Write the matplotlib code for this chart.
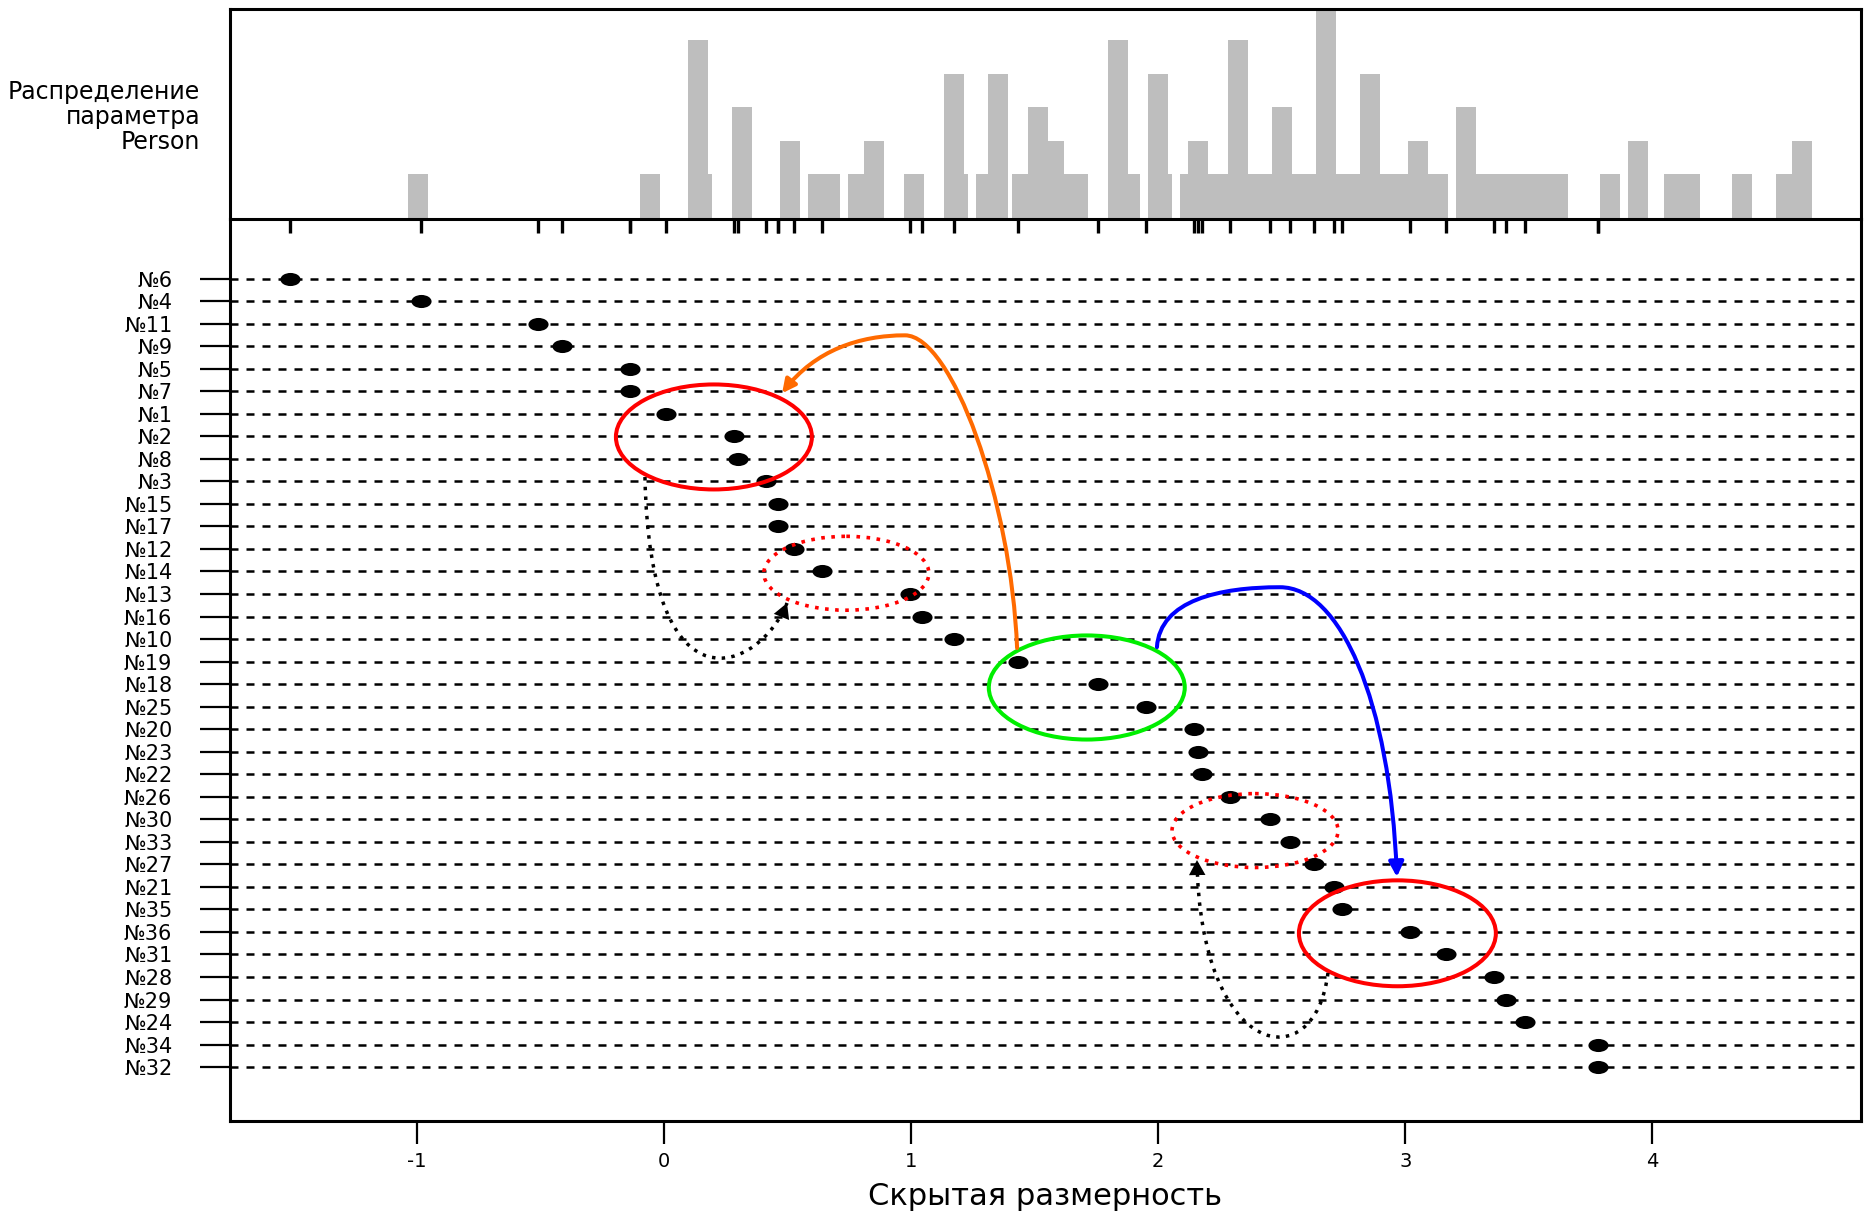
import matplotlib
matplotlib.use("Agg")
import matplotlib.pyplot as plt
from matplotlib.path import Path
from matplotlib.patches import Ellipse, PathPatch, FancyArrowPatch
from matplotlib.transforms import Affine2D, blended_transform_factory

plt.rcParams['font.family'] = ['DejaVu Sans']

# =====================================================
# Data
# =====================================================
item_labels = ["№6", "№4", "№11", "№9", "№5", "№7", "№1", "№2", "№8", "№3",
               "№15", "№17", "№12", "№14", "№13", "№16", "№10", "№19", "№18",
               "№25", "№20", "№23", "№22", "№26", "№30", "№33", "№27", "№21",
               "№35", "№36", "№31", "№28", "№29", "№24", "№34", "№32"]
item_values = [-1.515, -0.983, -0.510, -0.413, -0.138, -0.138, 0.008, 0.283,
               0.299, 0.413, 0.461, 0.461, 0.526, 0.639, 0.996, 1.044, 1.174,
               1.433, 1.756, 1.951, 2.145, 2.161, 2.177, 2.291, 2.452, 2.533,
               2.631, 2.711, 2.744, 3.019, 3.165, 3.359, 3.408, 3.484, 3.780,
               3.780]

# person parameter distribution (bar edges and counts)
hist_left = [-1.036, -0.097, 0.097, 0.178, 0.275, 0.469, 0.583, 0.745, 0.809,
             0.971, 1.133, 1.214, 1.263, 1.311, 1.408, 1.473, 1.554, 1.619,
             1.797, 1.878, 1.959, 2.040, 2.088, 2.121, 2.202, 2.282, 2.363,
             2.460, 2.541, 2.639, 2.720, 2.817, 2.898, 3.011, 3.092, 3.205,
             3.286, 3.788, 3.901, 4.047, 4.322, 4.500, 4.565]
hist_right = [-0.955, -0.016, 0.178, 0.194, 0.356, 0.550, 0.712, 0.809, 0.890,
              1.052, 1.214, 1.230, 1.311, 1.392, 1.473, 1.554, 1.619, 1.716,
              1.878, 1.926, 2.040, 2.056, 2.121, 2.202, 2.282, 2.363, 2.460,
              2.541, 2.639, 2.720, 2.817, 2.898, 3.011, 3.092, 3.173, 3.286,
              3.658, 3.869, 3.982, 4.193, 4.403, 4.565, 4.646]
hist_count = [1, 1, 5, 1, 3, 2, 1, 1, 2,
              1, 4, 1, 1, 4, 1, 3, 2, 1,
              5, 1, 4, 1, 1, 2, 1, 5, 1,
              3, 1, 6, 1, 4, 1, 2, 1, 3,
              1, 1, 2, 1, 1, 1, 2]

x_ticks = [-1, 0, 1, 2, 3, 4]

# =====================================================
# Hand-drawn annotations (x in scale units, y in rows)
# =====================================================
# (center x, center row, width, height)
solid_ellipses = [(0.202, 7.03, 0.793, 4.66, "#ff0000"),
                  (1.711, 18.15, 0.793, 4.62, "#00ee00"),
                  (2.968, 29.06, 0.797, 4.70, "#ff0000")]
dotted_ellipses = [(0.738, 13.08, 0.668, 3.28),
                   (2.392, 24.50, 0.672, 3.28)]

orange_curve = [(1.429, 16.40), (1.405, 9.84), (1.165, 2.52), (0.975, 2.52),
                (0.793, 2.52), (0.611, 3.18), (0.478, 5.09)]
blue_curve = [(1.995, 16.36), (2.007, 14.27), (2.250, 13.70), (2.493, 13.70),
              (2.736, 13.70), (2.938, 18.71), (2.966, 26.56)]
dotted_curves = [[(-0.077, 8.81), (-0.057, 19.60), (0.389, 17.38), (0.498, 14.40)],
                 [(2.687, 30.82), (2.635, 35.57), (2.169, 34.68), (2.157, 25.81)]]

XLIM = (-1.756, 4.844)
HIST_BASE = -0.35


def bezier(points):
    codes = [Path.MOVETO] + [Path.CURVE4] * (len(points) - 1)
    return Path(points, codes)


fig = plt.figure(figsize=(18.72, 12.17), dpi=100)
ax_h = fig.add_axes([0.1229, 0.8198, 0.8712, 0.1732])
ax = fig.add_axes([0.1229, 0.0789, 0.8712, 0.7409])

# =====================================================
# Top panel: histogram
# =====================================================
widths = [r - l for l, r in zip(hist_left, hist_right)]
heights = [c - HIST_BASE for c in hist_count]
ax_h.bar(hist_left, heights, width=widths, bottom=HIST_BASE, align='edge',
         color='#bebebe', linewidth=0)
ax_h.set_xlim(*XLIM)
ax_h.set_ylim(HIST_BASE, 5.94)
ax_h.set_xticks([])
ax_h.set_yticks([])
for s in ax_h.spines.values():
    s.set_linewidth(2.2)
ax_h.spines['bottom'].set_visible(False)

fig.text(200 / 1872, 1 - 117 / 1217, "Распределение\nпараметра\nPerson",
         ha='right', va='center', multialignment='right', fontsize=17,
         linespacing=1.05)

# =====================================================
# Bottom panel: item map
# =====================================================
rows = list(range(len(item_labels)))
ax.set_xlim(*XLIM)
ax.set_ylim(37.39, -2.63)
ax.set_autoscale_on(False)

ax.hlines(rows, XLIM[0], XLIM[1], colors='black', linewidth=1.8,
          linestyles=[(0, (3.2, 3.2))], zorder=1)

dot = Path.unit_circle().transformed(Affine2D().scale(1.0, 0.65))
ax.plot(item_values, rows, linestyle='none', marker=dot, markersize=14.5,
        color='black', markeredgewidth=0, zorder=3)

# rug of item locations under the histogram
rug_tr = blended_transform_factory(ax.transData, ax.transAxes)
ax.vlines(item_values, 1 - 14 / 902, 1, transform=rug_tr, colors='black',
          linewidth=2.4, clip_on=False)

ax.set_yticks(rows)
ax.set_yticklabels(item_labels)
ax.set_xticks(x_ticks)
ax.set_xticklabels([str(t) for t in x_ticks])
ax.tick_params(axis='y', length=21.6, width=1.6, pad=20, labelsize=15)
ax.tick_params(axis='x', length=16.5, width=1.6, pad=6, labelsize=14)
for s in ax.spines.values():
    s.set_linewidth(2.2)
ax.set_xlabel("Скрытая размерность", fontsize=22, labelpad=8)

# =====================================================
# Annotations
# =====================================================
for cx, cy, w, h, col in solid_ellipses:
    ax.add_patch(Ellipse((cx, cy), w, h, fill=False, edgecolor=col,
                         linewidth=2.9, zorder=4))
for cx, cy, w, h in dotted_ellipses:
    ax.add_patch(Ellipse((cx, cy), w, h, fill=False, edgecolor='#ff0000',
                         linewidth=2.6, linestyle=(0, (1, 1.8)),
                         capstyle='butt', zorder=4))

ax.add_patch(FancyArrowPatch(path=bezier(orange_curve),
                             arrowstyle='-|>,head_length=0.4,head_width=0.2',
                             mutation_scale=20, color='#ff6a00',
                             linewidth=2.9, zorder=5))
ax.add_patch(FancyArrowPatch(path=bezier(blue_curve),
                             arrowstyle='-|>,head_length=0.4,head_width=0.2',
                             mutation_scale=22, color='#0000ff',
                             linewidth=2.9, zorder=5))

for pts in dotted_curves:
    ax.add_patch(PathPatch(bezier(pts), fill=False, edgecolor='black',
                           linewidth=2.5, linestyle=(0, (1, 1.8)),
                           capstyle='butt', zorder=5))
    (x2, y2), (x3, y3) = pts[-2], pts[-1]
    ax.annotate('', xy=(x3, y3),
                xytext=(x3 - 0.2 * (x3 - x2), y3 - 0.2 * (y3 - y2)),
                arrowprops=dict(arrowstyle='-|>,head_length=0.4,head_width=0.22',
                                color='black', lw=0, mutation_scale=27,
                                shrinkA=0, shrinkB=0), zorder=6)

fig.savefig("out.png", dpi=100)
